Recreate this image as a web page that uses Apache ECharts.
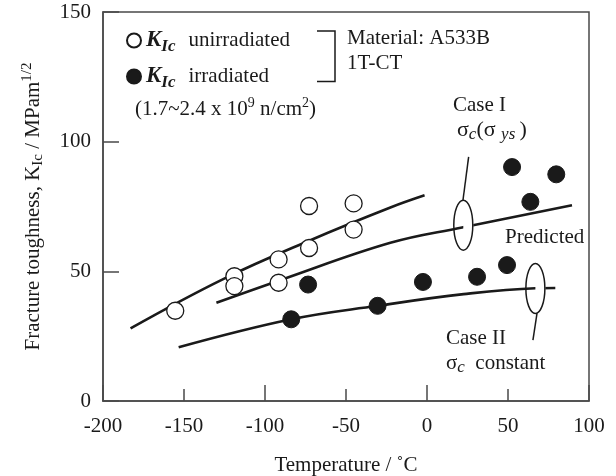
<!DOCTYPE html>
<html><head><meta charset="utf-8">
<script src="https://cdn.jsdelivr.net/npm/echarts@6/dist/echarts.min.js"></script>
<style>html,body{margin:0;padding:0;background:#fff}#c{width:616px;height:476px}</style>
</head><body><div id="c"></div>
<script>
// ---- data ----
const xMin = -200, xMax = 100, xStep = 50, xMajorStep = 100;
const yMin = 0, yMax = 150, yStep = 50;
const seriesNames = ['unirradiated', 'irradiated'];
const unirradiated = [[-155.4,34.8],[-118.9,48.1],[-118.9,44.3],[-91.6,54.6],[-91.6,45.6],[-72.8,75.2],[-72.8,59.0],[-45.3,76.2],[-45.3,66.1]];
const irradiated = [[-83.8,31.5],[-73.4,44.9],[-30.5,36.7],[-2.5,45.9],[30.9,47.9],[49.4,52.4],[52.5,90.2],[63.8,76.8],[79.8,87.4]];
const curveUpper = [[-183,28],[-125.5,47.1],[-72,62],[-22.6,74.6],[-1.5,79.3]];
const curvePredicted = [[-130,37.9],[-90.6,46.6],[-22.6,61],[21.6,66.9],[89.5,75.5]];
const curveCaseII = [[-153.3,20.7],[-83.8,31.5],[-30.5,36.7],[22.6,41.2],[66.9,43.5],[79.2,43.6]];
const leaderCaseI = [[22.2,77.4],[25.7,94.1]];
const leaderCaseII = [[67.9,33.8],[65.4,23.5]];
const ellipseCenters = [[22.4,67.8],[66.9,43.4]];

const FONT = '"Liberation Serif", "Times New Roman", serif';
const INK = '#1a1a1a';
const AXIS = '#4a4a4a';

const chart = echarts.init(document.getElementById('c'));

function txt(x, y, text, rich) {
  return { type: 'text', x: x, y: y, z: 100,
    style: { text: text, fill: INK, font: '21px ' + FONT, align: 'left', verticalAlign: 'middle', rich: rich || {} } };
}

const richSup = { p: { fontSize: 14, fontFamily: FONT, fill: INK, padding: [0,0,12,0] } };
const richSigma = {
  g: { fontSize: 22, fontFamily: FONT, fill: INK },
  si: { fontSize: 17, fontFamily: FONT, fontStyle: 'italic', fill: INK, padding: [10,0,0,0] }
};

function curve(data) {
  return { type: 'line', data: data, smooth: 0.4, showSymbol: false, symbol: 'none',
    lineStyle: { color: INK, width: 2.6 }, z: 2, silent: true };
}
function leader(data) {
  return { type: 'line', data: data, showSymbol: false, symbol: 'none',
    lineStyle: { color: INK, width: 1.5 }, z: 2, silent: true };
}

chart.setOption({
  animation: false,
  backgroundColor: '#fff',
  textStyle: { fontFamily: FONT, color: INK },
  grid: { left: 103, right: 27, top: 12, bottom: 75, containLabel: false, outerBoundsMode: 'none',
    show: true, borderColor: AXIS, borderWidth: 1.5, backgroundColor: 'transparent' },
  legend: {
    data: seriesNames, orient: 'vertical', left: 126, top: 29, padding: 0,
    itemWidth: 14, itemHeight: 14, itemGap: 10, itemTextGap: 10, selectedMode: false,
    formatter: function (name) { return '{k|K}{s|Ic}{t|' + name + '}'; },
    textStyle: { fontFamily: FONT, fontSize: 21, color: INK,
      rich: {
        k: { fontFamily: FONT, fontSize: 23, fontWeight: 'bold', fontStyle: 'italic', color: INK },
        s: { fontFamily: FONT, fontSize: 17, fontWeight: 'bold', fontStyle: 'italic', color: INK, padding: [12,0,0,0] },
        t: { fontFamily: FONT, fontSize: 21, color: INK, padding: [0,0,0,13] }
      } }
  },
  xAxis: [{
    type: 'value', min: xMin, max: xMax, interval: xStep,
    name: 'Temperature / ˚C', nameLocation: 'middle', nameGap: 54,
    nameTextStyle: { fontFamily: FONT, fontSize: 21, color: INK },
    axisLine: { show: true, onZero: false, lineStyle: { color: AXIS, width: 1.5 } },
    axisTick: { show: true, inside: true, length: 12, lineStyle: { color: AXIS, width: 1.5 } },
    axisLabel: { fontFamily: FONT, fontSize: 21, color: INK, margin: 15 },
    splitLine: { show: false }
  }, {
    type: 'value', min: xMin, max: xMax, interval: xMajorStep, position: 'bottom', offset: 0,
    axisLine: { show: false, onZero: false },
    axisTick: { show: true, inside: true, length: 16, lineStyle: { color: AXIS, width: 1.5 } },
    axisLabel: { show: false }, splitLine: { show: false }
  }],
  yAxis: {
    type: 'value', min: yMin, max: yMax, interval: yStep,
    name: 'Fracture toughness, K{s|Ic} / MPam{p|1/2}', nameLocation: 'middle', nameRotate: 90, nameGap: 56,
    nameTextStyle: { fontFamily: FONT, fontSize: 21, color: INK,
      rich: { s: { fontFamily: FONT, fontSize: 15, color: INK, padding: [10,0,0,0] },
              p: { fontFamily: FONT, fontSize: 15, color: INK, padding: [0,0,12,0] } } },
    axisLine: { show: true, onZero: false, lineStyle: { color: AXIS, width: 1.5 } },
    axisTick: { show: true, inside: true, length: 16, lineStyle: { color: AXIS, width: 1.5 } },
    axisLabel: { fontFamily: FONT, fontSize: 21, color: INK, margin: 12 },
    splitLine: { show: false }
  },
  series: [
    Object.assign({ name: 'curveUpper' }, curve(curveUpper)),
    Object.assign({ name: 'curvePredicted' }, curve(curvePredicted)),
    Object.assign({ name: 'curveCaseII' }, curve(curveCaseII)),
    Object.assign({ name: 'leaderI' }, leader(leaderCaseI)),
    Object.assign({ name: 'leaderII' }, leader(leaderCaseII)),
    { name: 'ellipses', type: 'custom', data: ellipseCenters, z: 4, silent: true,
      renderItem: function (params, api) {
        const c = api.coord([api.value(0), api.value(1)]);
        const rx = 9.5, ry = 25;
        return { type: 'group', children: [
          { type: 'rect', shape: { x: c[0], y: c[1] - 4, width: rx + 0.5, height: 8 }, style: { fill: '#fff' } },
          { type: 'ellipse', shape: { cx: c[0], cy: c[1], rx: rx, ry: ry }, style: { fill: 'none', stroke: INK, lineWidth: 1.5 } }
        ] };
      } },
    { name: seriesNames[0], type: 'scatter', data: unirradiated, symbol: 'circle', symbolSize: 17, z: 5,
      itemStyle: { color: '#fff', borderColor: INK, borderWidth: 1.3, opacity: 1 } },
    { name: seriesNames[1], type: 'scatter', data: irradiated, symbol: 'circle', symbolSize: 17, z: 5,
      itemStyle: { color: INK, borderColor: INK, borderWidth: 1, opacity: 1 } }
  ],
  graphic: [
    txt(135, 109, '(1.7~2.4 x 10{p|9} n/cm{p|2})', richSup),
    { type: 'polyline', z: 100, shape: { points: [[317,31],[335,31],[335,81.5],[317,81.5]] },
      style: { fill: 'none', stroke: INK, lineWidth: 1.5 } },
    txt(347, 38.5, 'Material: A533B'),
    txt(347, 63, '1T-CT'),
    txt(453, 105, 'Case I'),
    txt(457, 130, '{g|σ}{si|c}{g|(σ }{si|ys }{g|)}', richSigma),
    txt(505, 237, 'Predicted'),
    txt(446, 338, 'Case II'),
    txt(446, 363, '{g|σ}{si|c}{g|  constant}', Object.assign({}, richSigma, { g: { fontSize: 21, fontFamily: FONT, fill: INK } }))
  ]
});
</script>
</body></html>
